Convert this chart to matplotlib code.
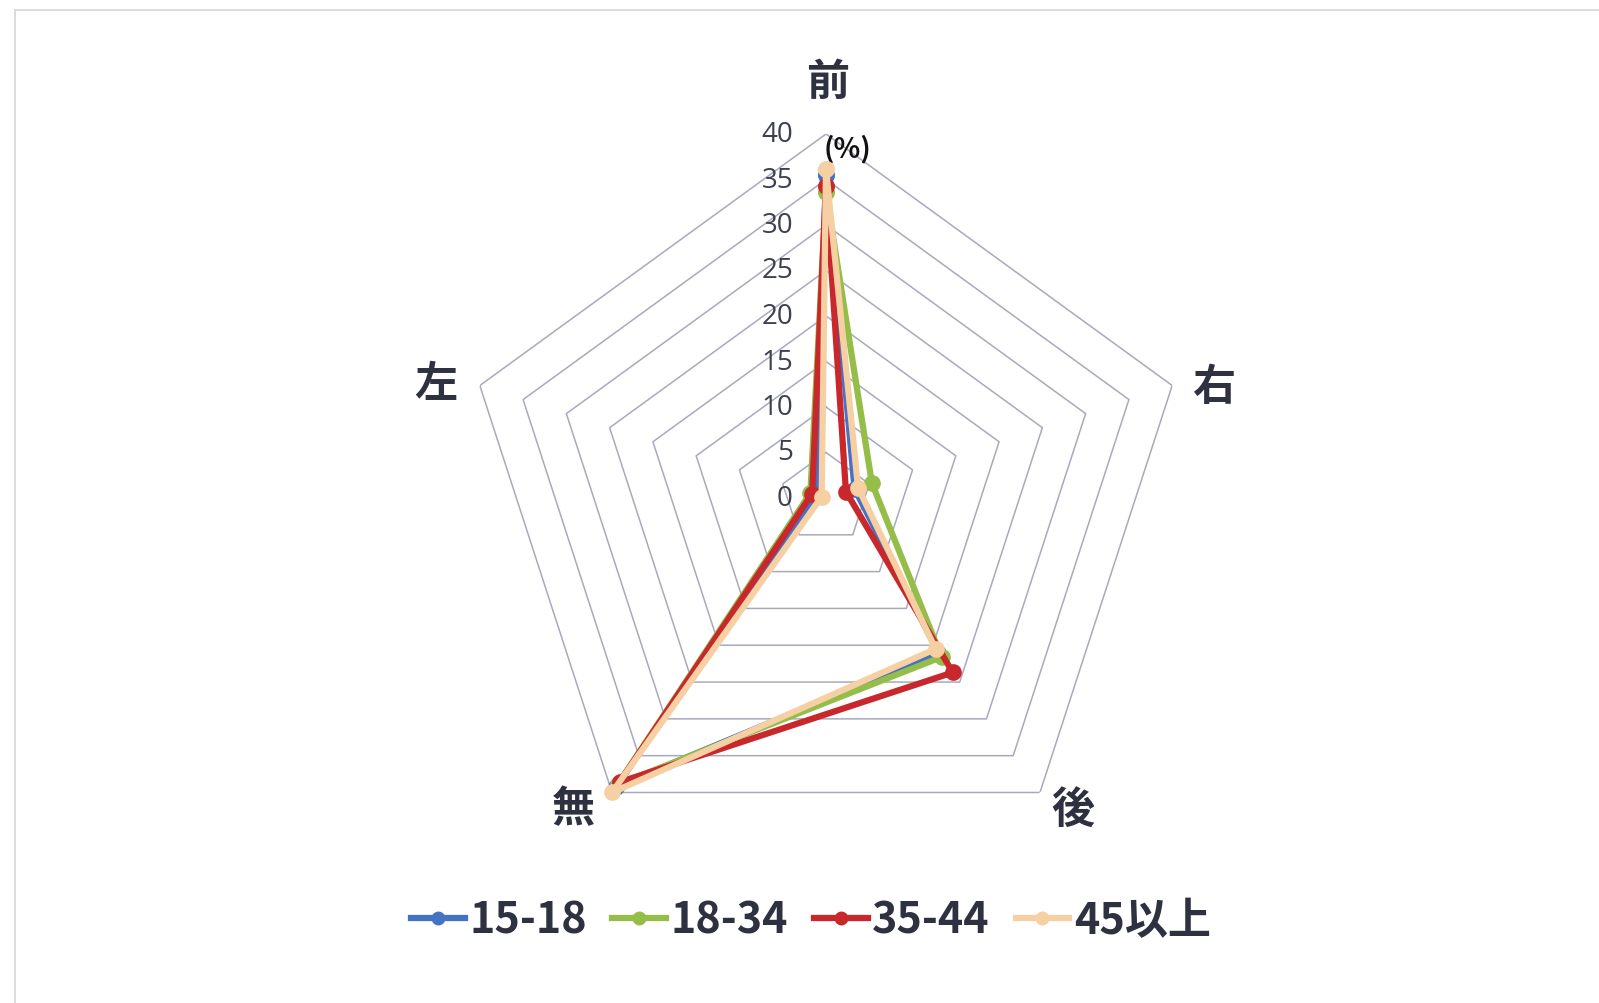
import numpy as np
import matplotlib
matplotlib.use("Agg")
import matplotlib.pyplot as plt
from matplotlib.lines import Line2D
from matplotlib.patches import Rectangle

plt.rcParams['font.family'] = ['Noto Sans CJK JP', 'DejaVu Sans']

# directions, clockwise from the top
categories = ['前', '右', '後', '無', '左']
series_names = ['15-18', '18-34', '35-44', '45以上']
values_15_18 = [35.5, 3.3, 21.0, 39.2, 1.2]
values_18_34 = [33.6, 5.3, 21.6, 38.9, 1.8]
values_35_44 = [34.3, 2.3, 23.7, 38.6, 1.6]
values_45_up = [36.2, 3.7, 20.5, 40.0, 0.5]
ring_levels = [0, 5, 10, 15, 20, 25, 30, 35, 40]

colors = ['#4472C4', '#94BE48', '#C8282C', '#F6CFA3']
text_dark = '#2E3140'

W, H = 1599, 1004
fig = plt.figure(figsize=(W / 100, H / 100), dpi=100)

# light chart border
fig.add_artist(Rectangle((15 / W, -0.05), 1.2, 1 - 11 / H + 0.05,
                         transform=fig.transFigure, fill=False,
                         edgecolor='#D6D6DA', linewidth=1.2))

cx, cy, rad = 826, 499, 364
ax = fig.add_axes([(cx - rad) / W, (H - cy - rad) / H, 2 * rad / W, 2 * rad / H],
                  projection='polar')
ax.set_theta_zero_location('N')
ax.set_theta_direction(-1)
ax.set_ylim(0, 40)
ax.set_xticks([])
ax.set_yticks([])
ax.grid(False)
ax.spines['polar'].set_visible(False)
ax.patch.set_alpha(0)

n = len(categories)
theta = np.arange(n) * 2 * np.pi / n
theta_closed = np.append(theta, theta[0])

# pentagon rings
for lv in ring_levels[1:]:
    ax.plot(theta_closed, [lv] * (n + 1), color='#A9A9BE', lw=1.1, zorder=1)

for v in ring_levels:
    ax.annotate(str(v), xy=(0, v), xytext=(-33, 0), textcoords='offset pixels',
                ha='right', va='center', fontsize=20, color='#3C4050',
                family=['Open Sans', 'DejaVu Sans'], annotation_clip=False)

ax.annotate('(%)', xy=(0, 40), xytext=(22, -14), textcoords='offset pixels',
            ha='center', va='center', fontsize=20, fontweight='bold',
            color='#111111', annotation_clip=False)

# category labels, offset in pixels from the outer ring corners
label_offsets = [(2, 53), (42, 0), (33, -17), (-39, -16), (-44, 3)]
for t, lab, off in zip(theta, categories, label_offsets):
    ax.annotate(lab, xy=(t, 40), xytext=off, textcoords='offset pixels',
                ha='center', va='center', fontsize=31, fontweight='bold',
                color=text_dark, annotation_clip=False)

all_series = [values_15_18, values_18_34, values_35_44, values_45_up]
handles = []
for i, (vals, name, c) in enumerate(zip(all_series, series_names, colors)):
    vals_closed = vals + vals[:1]
    ax.plot(theta_closed, vals_closed, color=c, lw=4.5, marker='o',
            markersize=11, solid_joinstyle='round', zorder=3 + i,
            clip_on=False, label=name)
    handles.append(Line2D([], [], color=c, lw=4.5, marker='o', markersize=9))

leg = fig.legend(handles, series_names, loc='center',
                 bbox_to_anchor=(0.507, 1 - 921 / H), ncol=4, frameon=False,
                 handlelength=1.25, handletextpad=0.1, columnspacing=0.6,
                 prop={'weight': 'bold', 'size': 31})
for txt in leg.get_texts():
    txt.set_color(text_dark)

fig.savefig('out.png', dpi=100, facecolor='white')
